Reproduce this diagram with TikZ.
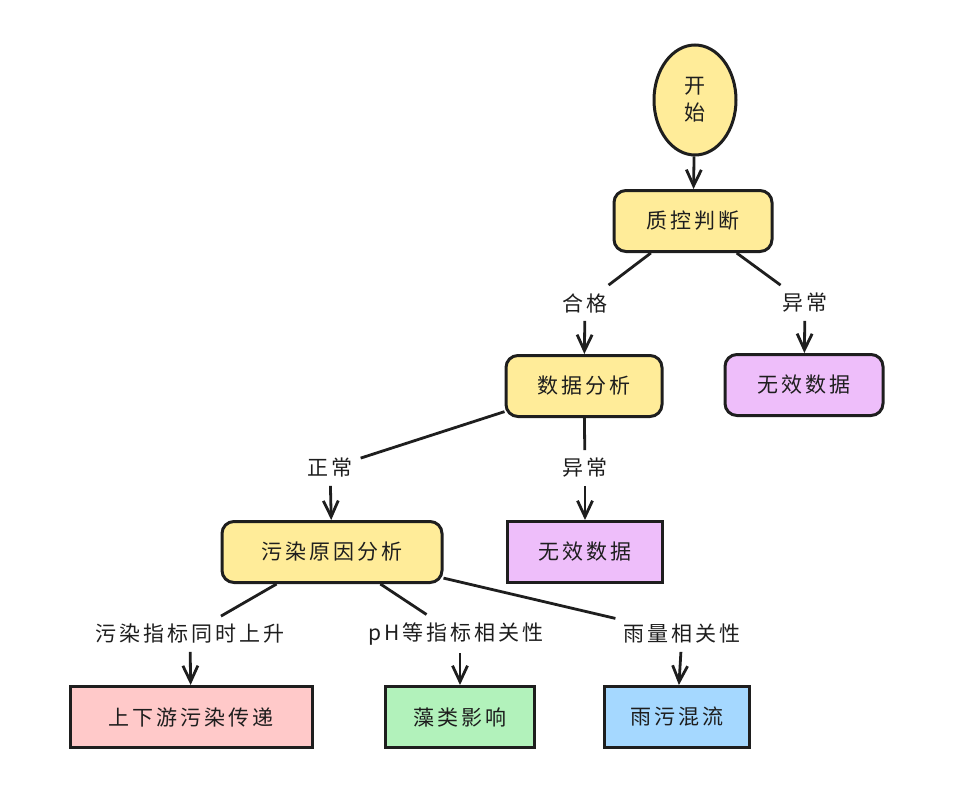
\documentclass[tikz,border=0pt]{standalone}
\usepackage{fontspec}
\newfontfamily\cjk[LetterSpace=14]{Noto Sans CJK SC}
\usetikzlibrary{arrows.meta, shapes.geometric, positioning}

\definecolor{qcgelb}{HTML}{FFEC99}
\definecolor{qclila}{HTML}{EEBEFA}
\definecolor{qcrosa}{HTML}{FFC9C9}
\definecolor{qcgruen}{HTML}{B2F2BB}
\definecolor{qcblau}{HTML}{A5D8FF}
\definecolor{qcstift}{HTML}{1E1E1E}

\begin{document}
\begin{tikzpicture}[x=1pt, y=-1pt,
    every node/.style={font=\cjk\fontsize{21}{27}\selectfont, text=qcstift}]
  \tikzset{
    procbox/.style={draw=qcstift, line width=3pt, fill=qcgelb,
           rounded corners=12pt, minimum width=158pt, minimum height=61pt},
    flatbox/.style={draw=qcstift, line width=3pt,
           minimum width=150pt, minimum height=61pt},
    lbl/.style={inner sep=8pt},
    arr/.style={draw=qcstift, line width=2.8pt,
           -{Straight Barb[length=16pt, width=15pt, line width=2.8pt]}},
    conn/.style={draw=qcstift, line width=2.8pt}
  }
  \useasboundingbox (0,0) rectangle (967,787);

  \node[ellipse, draw=qcstift, line width=3pt, fill=qcgelb,
        minimum width=82pt, minimum height=110pt, inner sep=0pt,
        align=center] (start) at (695,100) {开\\始};
  \node[procbox] (qc) at (693,221) {质控判断};
  \node[procbox, minimum width=156pt] (da) at (584,386) {数据分析};
  \node[procbox, fill=qclila] (inv1) at (804,385) {无效数据};
  \node[procbox, minimum width=220pt] (ppa) at (332,552) {污染原因分析};
  \node[flatbox, fill=qclila, minimum width=155pt] (inv2) at (585,552) {无效数据};
  \node[flatbox, fill=qcrosa, minimum width=242pt] (updown) at (191,717) {上下游污染传递};
  \node[flatbox, fill=qcgruen, minimum width=149pt] (algae) at (460,717) {藻类影响};
  \node[flatbox, fill=qcblau, minimum width=145pt] (rain) at (677,717) {雨污混流};

  % Kantenbeschriftungen
  \node[lbl] (lok)    at (585,303) {合格};
  \node[lbl] (lbad)   at (805,303) {异常};
  \node[lbl] (lnorm)  at (330,468) {正常};
  \node[lbl] (lbad2)  at (585,468) {异常};
  \node[lbl] (lrise)  at (190,634) {污染指标同时上升};
  \node[lbl] (lph)    at (456,634) {pH等指标相关性};
  \node[lbl] (lrain)  at (682,634) {雨量相关性};

  \draw[arr] (start) -- (qc);
  \draw[conn] (qc) -- (lok);
  \draw[arr] (lok) -- (da);
  \draw[conn] (qc) -- (lbad);
  \draw[arr] (lbad) -- (inv1);
  \draw[conn] (da) -- (lnorm);
  \draw[arr] (lnorm) -- (ppa);
  \draw[conn] (da) -- (lbad2);
  \draw[arr] (lbad2) -- (inv2);
  \draw[conn] (ppa) -- (lrise);
  \draw[arr] (lrise) -- (updown);
  \draw[conn] (ppa) -- (lph);
  \draw[arr] (lph.south -| algae) -- (algae);
  \draw[conn] (ppa) -- (lrain);
  \draw[arr] (lrain) -- (rain);
\end{tikzpicture}
\end{document}
